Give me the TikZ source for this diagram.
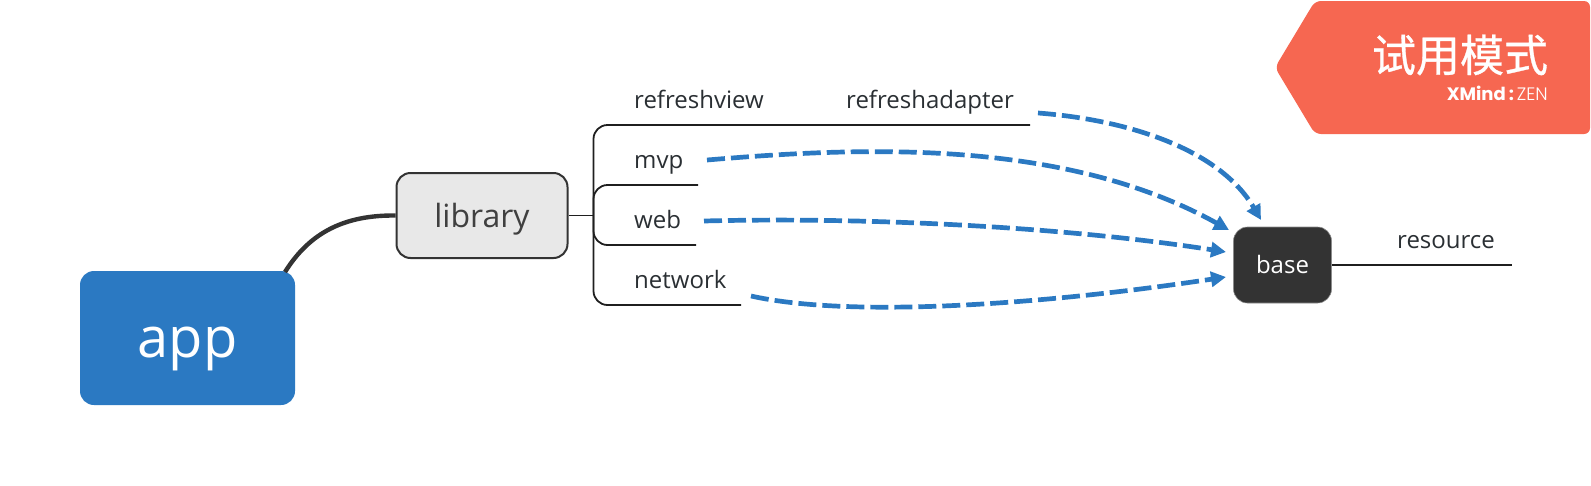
\documentclass[tikz,border=0pt]{standalone}
\usepackage{fontspec}
\setmainfont{Open Sans}
\newfontfamily\cjkf[FakeBold=0.7]{Noto Sans CJK SC}
\newfontfamily\logof{Poppins}
\newfontfamily\logol{Poppins Light}
\usetikzlibrary{arrows.meta}
\definecolor{dk}{HTML}{333333}
\definecolor{bl}{HTML}{2B79C2}
\definecolor{ink}{HTML}{2A2F33}
\definecolor{bdg}{HTML}{F66751}
\newcommand{\lowered}[2]{\raisebox{-#1}[0pt][0pt]{#2}}
\tikzset{
  x=1pt,y=-1pt,
  box/.style={inner sep=0pt,rounded corners=#1},
  sub/.style={anchor=base west,inner sep=0pt,text=ink,font=\fontsize{24}{28}\selectfont},
  branch/.style={draw=black!88,line width=1.8pt,rounded corners=14pt},
  rel/.style={draw=bl,line width=4.7pt,dash pattern=on 18pt off 6pt,-{Triangle[length=15pt,width=15pt]}},
}
\begin{document}
\begin{tikzpicture}
\useasboundingbox (0,0) rectangle (1591,485);
% badge
\fill[bdg,rounded corners=6pt] (1590,1) -- (1590,134) -- (1315,134) -- (1275,67.5) -- (1315,1) -- cycle;
\node[anchor=center,inner sep=0pt,text=white,font=\cjkf\fontsize{44}{48}\selectfont] (badge) at (1460,55) {试用模式};
\node[anchor=base east,inner sep=0pt,text=white,font=\logof\fontsize{18}{20}\selectfont] (logo) at (1548,100) {\textbf{XMind}\,\textbf{:}\,{\logol ZEN}};
% main boxes
\node[fill=bl,box=14pt,minimum width=215pt,minimum height=134pt,text=white,font=\fontsize{56}{60}\selectfont] (app) at (187.5,338) {\lowered{19pt}{app}};
\node[fill=black!9,draw=dk,line width=2pt,box=14pt,minimum width=171pt,minimum height=85pt,text=black!75,font=\fontsize{32}{38}\selectfont] (library) at (482,215.5) {\lowered{12pt}{library}};
\node[fill=dk,draw=black!45,line width=.6pt,box=14pt,minimum width=98pt,minimum height=76pt,text=white,font=\fontsize{24}{28}\selectfont] (base) at (1282.5,265) {\lowered{8.3pt}{base}};
% sub-topics
\node[sub] (refreshview) at (634,108) {refreshview};
\node[sub] (refreshadapter) at (846,108) {refreshadapter};
\node[sub] (mvp) at (634,168) {mvp};
\node[sub] (web) at (634,228) {web};
\node[sub] (network) at (634,288) {network};
\node[sub] (resource) at (1397,248) {resource};
% free ends
\coordinate (tr) at (593,215.5);
\coordinate (e1) at (1030,125);
\coordinate (e2) at (698,185);
\coordinate (e3) at (696,245);
\coordinate (e4) at (741,305);
\coordinate (e5) at (1512,265);
% branches
\draw[dk,line width=4.4pt] (285,272) .. controls (310,232) and (345,215) .. (library.west);
\draw[branch] (library.east) -- (tr);
\draw[branch] (e1) -- (593.5,125) -- (593.5,305) -- (e4);
\draw[branch] (e2) -- (593.5,185) -- (593.5,245) -- (e3);
\draw[branch] (base.east) -- (e5);
% relationships
\coordinate (r1s) at (1038,113);
\coordinate (r1t) at (1261,220);
\coordinate (r2s) at (707,160);
\coordinate (r2t) at (1229,230);
\coordinate (r3s) at (704,221);
\coordinate (r3t) at (1226,252);
\coordinate (r4s) at (751,296);
\coordinate (r4t) at (1226,277);
\draw[rel] (r1s) .. controls (1130,120) and (1220,150) .. (r1t);
\draw[rel] (r2s) .. controls (850,148) and (1060,136) .. (r2t);
\draw[rel] (r3s) .. controls (860,217) and (1060,226) .. (r3t);
\draw[rel] (r4s) .. controls (850,318) and (1040,305) .. (r4t);
\end{tikzpicture}
\end{document}
